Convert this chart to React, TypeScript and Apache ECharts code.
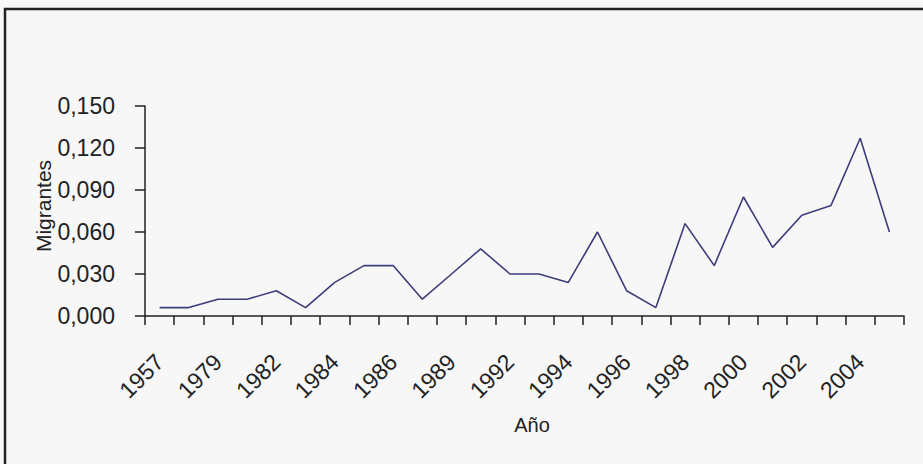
import React, { useEffect, useRef } from "react";
import * as echarts from "echarts";

const years = [
  "1957", "1978", "1979", "1980", "1982", "1983", "1984", "1985", "1986", "1987",
  "1989", "1990", "1992", "1993", "1994", "1995", "1996", "1997", "1998", "1999",
  "2000", "2001", "2002", "2003", "2004", "2005",
];
const migrantes = [
  0.006, 0.006, 0.012, 0.012, 0.018, 0.006, 0.024, 0.036, 0.036, 0.012,
  0.030, 0.048, 0.030, 0.030, 0.024, 0.060, 0.018, 0.006, 0.066, 0.036,
  0.085, 0.049, 0.072, 0.079, 0.127, 0.060,
];
const yTicks = { min: 0, max: 0.15, interval: 0.03 };
const xTitle = "Año";
const yTitle = "Migrantes";

export default function App() {
  const ref = useRef<HTMLDivElement>(null);
  useEffect(() => {
    if (!ref.current) return;
    const chart = echarts.init(ref.current, null, { renderer: "svg" });
    const font = "'Liberation Sans', Arial, sans-serif";
    chart.setOption({
      animation: false,
      backgroundColor: "#f7f7f7",
      grid: { left: 145, right: 19, top: 106, bottom: 148, containLabel: false },
      xAxis: {
        type: "category",
        data: years,
        boundaryGap: true,
        axisLine: { lineStyle: { color: "#222", width: 1.5 } },
        axisTick: { show: true, length: 9, interval: 0, lineStyle: { color: "#222", width: 1.5 } },
        axisLabel: {
          interval: 1,
          rotate: 45,
          margin: 42,
          color: "#222",
          fontFamily: font,
          fontSize: 23,
        },
        splitLine: { show: false },
      },
      yAxis: {
        type: "value",
        min: yTicks.min,
        max: yTicks.max,
        interval: yTicks.interval,
        axisLine: { show: true, lineStyle: { color: "#222", width: 1.5 } },
        axisTick: { show: true, length: 10, lineStyle: { color: "#222", width: 1.5 } },
        axisLabel: {
          margin: 30,
          color: "#222",
          fontFamily: font,
          fontSize: 23,
          formatter: (v: number) => v.toFixed(3).replace(".", ","),
        },
        splitLine: { show: false },
      },
      series: [
        {
          type: "line",
          data: migrantes,
          symbol: "none",
          lineStyle: { color: "#3d3d7c", width: 1.6 },
        },
      ],
      graphic: [
        {
          type: "rect",
          shape: { x: 5, y: 9, width: 940, height: 480 },
          style: { fill: "none", stroke: "#222", lineWidth: 2.5 },
          silent: true,
        },
        {
          type: "text",
          x: 532,
          y: 425,
          style: {
            text: xTitle,
            fontFamily: font,
            fontSize: 20,
            fill: "#222",
            textAlign: "center",
            textVerticalAlign: "middle",
          },
        },
        {
          type: "text",
          x: 43,
          y: 206,
          rotation: Math.PI / 2,
          style: {
            text: yTitle,
            fontFamily: font,
            fontSize: 21,
            fill: "#222",
            textAlign: "center",
            textVerticalAlign: "middle",
          },
        },
      ],
    });
    return () => chart.dispose();
  }, []);
  return (
    <div
      ref={ref}
      style={{ position: "absolute", left: 0, top: 0, width: 923, height: 464 }}
    />
  );
}
